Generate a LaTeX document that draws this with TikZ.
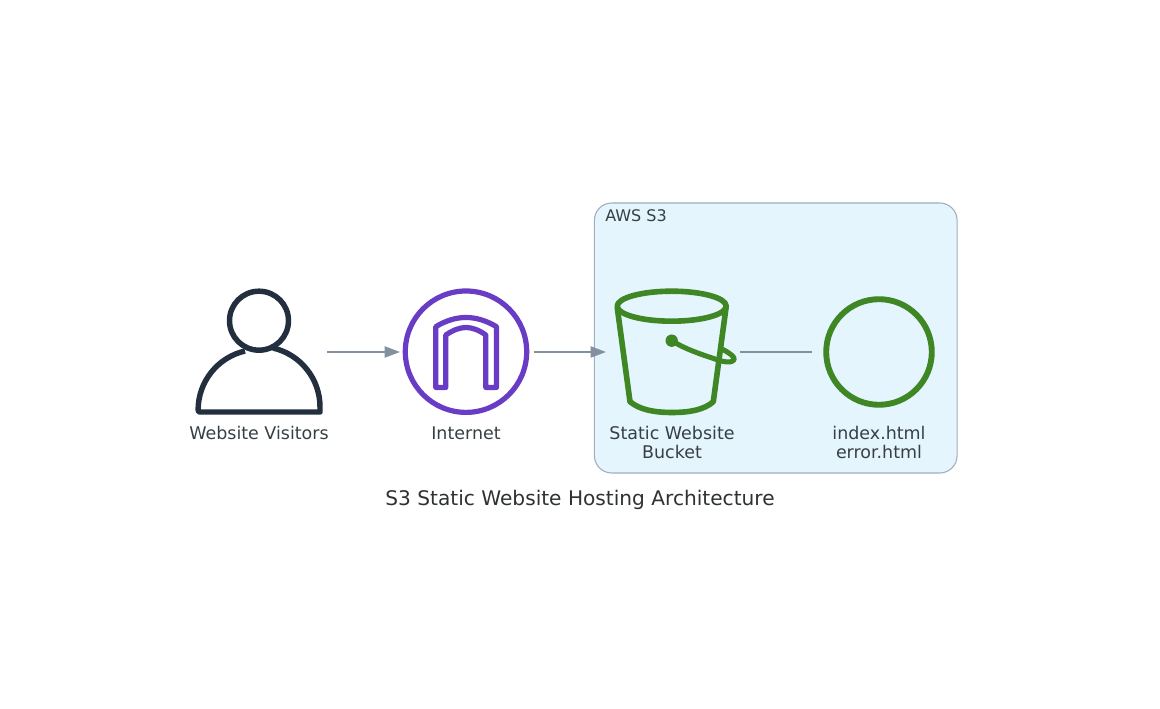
\documentclass[tikz,border=0pt]{standalone}
\usepackage{fontspec}
\setmainfont{DejaVu Sans}
\usetikzlibrary{arrows.meta}
\definecolor{inkdark}{HTML}{232F3E}
\definecolor{netpurple}{HTML}{693CC5}
\definecolor{s3green}{HTML}{3F8624}
\definecolor{edgegrey}{HTML}{8390A0}
\definecolor{groupfill}{HTML}{E4F5FD}
\definecolor{groupline}{HTML}{A0AEBD}
\definecolor{labelcol}{HTML}{363F44}
\definecolor{titlecol}{HTML}{2F3233}
\tikzset{
  x=0.75pt,y=0.75pt,
  iconbox/.style={minimum width=100.5pt,minimum height=90pt,inner sep=0pt,outer sep=0pt},
  lbl/.style={font=\fontsize{13.1}{14.25}\selectfont,text=labelcol,align=center,inner sep=0pt,anchor=base},
  link/.style={draw=edgegrey,line width=1.25pt},
  flow/.style={link,-{Triangle[length=11.6pt,width=8.4pt]}},
  personline/.style={draw=inkdark,line width=4.1pt,line join=round},
  netline/.style={draw=netpurple,line width=3.9pt,line join=round},
  s3line/.style={draw=s3green,line width=4.2pt,line join=round,line cap=round},
}
\begin{document}
\begin{tikzpicture}
\useasboundingbox (0,0) rectangle (1160,709);
\fill[white] (0,0) rectangle (1160,709);
% group
\node[draw=groupline,fill=groupfill,line width=0.8pt,rounded corners=13pt,minimum width=272pt,minimum height=202.5pt,inner sep=0pt] (group) at (775.75,371) {};
\node[font=\fontsize{12}{14}\selectfont,text=labelcol,anchor=base west,inner sep=0pt] (grouplabel) at (605,487.3) {AWS S3};
% invisible icon boxes used by connectors
\node[iconbox] (visitors) at (260,357) {};
\node[iconbox] (internet) at (467,357) {};
\node[iconbox] (bucket) at (673,357) {};
\node[iconbox] (files) at (879,357) {};
% person
\draw[personline] (245,358) arc (103:180:60.5) -- (199,297) -- (320,297) -- (320,302) arc (0:77:60.5);
\draw[personline] (259,388.3) circle (29.5);
% internet
\draw[netline] (466,357.3) circle (60.7);
\draw[netline,line width=3.9pt] (435.8,321.5) -- (435.8,382.3) .. controls (446,388.5) and (456,391.5) .. (466,391.5) .. controls (476,391.5) and (486,388.5) .. (496.5,382.3) -- (496.5,321.5) -- (485.8,321.5) -- (485.8,374) .. controls (479,379) and (472,381.5) .. (466,381.5) .. controls (460,381.5) and (453,379) .. (445.8,374) -- (445.8,321.5) -- cycle;
% bucket
\draw[s3line] (671.7,402.8) ellipse (54.5 and 15);
\draw[s3line] (617.3,401) -- (630,307.3) .. controls (640,299) and (655,296.5) .. (672,296.5) .. controls (689,296.5) and (704,299) .. (713.3,307.3) -- (726,401);
\fill[s3green] (671.7,368.3) circle (6.2);
\draw[s3line,line width=3.8pt] (671.7,368.3) .. controls (685,360) and (700,355) .. (715,350) .. controls (724,346.5) and (732,346) .. (734,349) .. controls (735.5,352) and (730,355.5) .. (723,359.5);
% files
\draw[s3line,line width=4.4pt] (879,357) circle (52.8);
% connectors
\draw[flow] (visitors.east) -- (internet.west);
\draw[flow] (internet.east) -- (bucket.west);
\draw[link] (bucket.east) -- (files.west);
% labels
\node[lbl] (lblvisitors) at (259,269.2) {Website Visitors};
\node[lbl] (lblinternet) at (466,269.2) {Internet};
\node[lbl] (lblbucket) at (672,250.2) {Static Website\\Bucket};
\node[lbl] (lblfiles) at (879,250.2) {index.html\\error.html};
\node[font=\fontsize{15.1}{18}\selectfont,text=titlecol,anchor=base,inner sep=0pt] (title) at (580,203) {S3 Static Website Hosting Architecture};
\end{tikzpicture}
\end{document}
